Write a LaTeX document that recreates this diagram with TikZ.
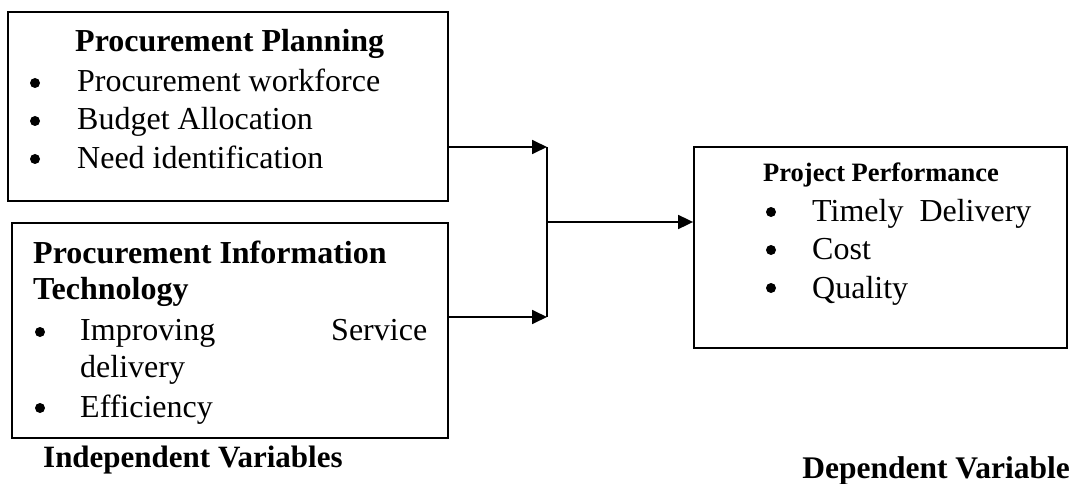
\documentclass[tikz,border=0pt]{standalone}
\usepackage{fontspec}
\setmainfont{Liberation Serif}
\usetikzlibrary{arrows.meta}
\begin{document}
\begin{tikzpicture}[x=1pt,y=-1pt,
  box/.style={draw,line width=1.8pt,rectangle,inner sep=0pt},
  txt/.style={inner sep=0pt,anchor=base west,font=\fontsize{32}{38}\selectfont},
  head/.style={inner sep=0pt,anchor=base west,font=\fontsize{32}{38}\selectfont\bfseries},
  dot/.style={circle,fill,inner sep=0pt,minimum size=10pt},
  conn/.style={line width=1.8pt},
  arr/.style={line width=1.8pt,-{Triangle[length=15pt,width=14pt]}}]
\useasboundingbox (0,0) rectangle (1074,484);
% boxes
\node[box,minimum width=440pt,minimum height=189pt] (b1) at (228,106.5) {};
\node[box,minimum width=436pt,minimum height=215pt] (b2) at (230,330.5) {};
\node[box,minimum width=373pt,minimum height=201pt] (b3) at (880.5,247.5) {};
% box 1 text
\node[head] (h1) at (75,52) {Procurement Planning};
\node[dot] (d11) at (35,83) {};
\node[txt] (t11) at (77,92) {Procurement workforce};
\node[dot] (d12) at (35,121) {};
\node[txt] (t12) at (77,130) {Budget Allocation};
\node[dot] (d13) at (35,159) {};
\node[txt] (t13) at (77,168) {Need identification};
% box 2 text
\node[head] (h21) at (33,263) {Procurement Information};
\node[head] (h22) at (33,299) {Technology};
\node[dot] (d21) at (40,332) {};
\node[txt] (t21) at (80,340) {\makebox[347pt][l]{Improving\hfill Service}};
\node[txt] (t22) at (80,377) {delivery};
\node[dot] (d22) at (40,408) {};
\node[txt] (t23) at (80,417) {Efficiency};
% box 3 text
\node[head,font=\fontsize{26.5}{31}\selectfont\bfseries] (h3) at (763,182) {Project Performance};
\node[dot] (d31) at (771,212) {};
\node[txt] (t31) at (812,221) {Timely\ \ Delivery};
\node[dot] (d32) at (771,250) {};
\node[txt] (t32) at (812,259) {Cost};
\node[dot] (d33) at (771,288) {};
\node[txt] (t33) at (812,298) {Quality};
% labels
\node[head,font=\fontsize{31}{36}\selectfont\bfseries] (l1) at (43,467) {Independent Variables};
\node[head,font=\fontsize{31.5}{36}\selectfont\bfseries,anchor=base east] (l2) at (1070,478) {Dependent Variable};
% connectors
\coordinate (j1) at (547,147);
\coordinate (j2) at (547,317);
\coordinate (jm) at (547,222);
\draw[arr] (b1.east |- j1) -- (j1);
\draw[arr] (b2.east |- j2) -- (j2);
\draw[conn] (j1) -- (j2);
\draw[arr] (jm) -- (b3.west |- jm);
\end{tikzpicture}
\end{document}
